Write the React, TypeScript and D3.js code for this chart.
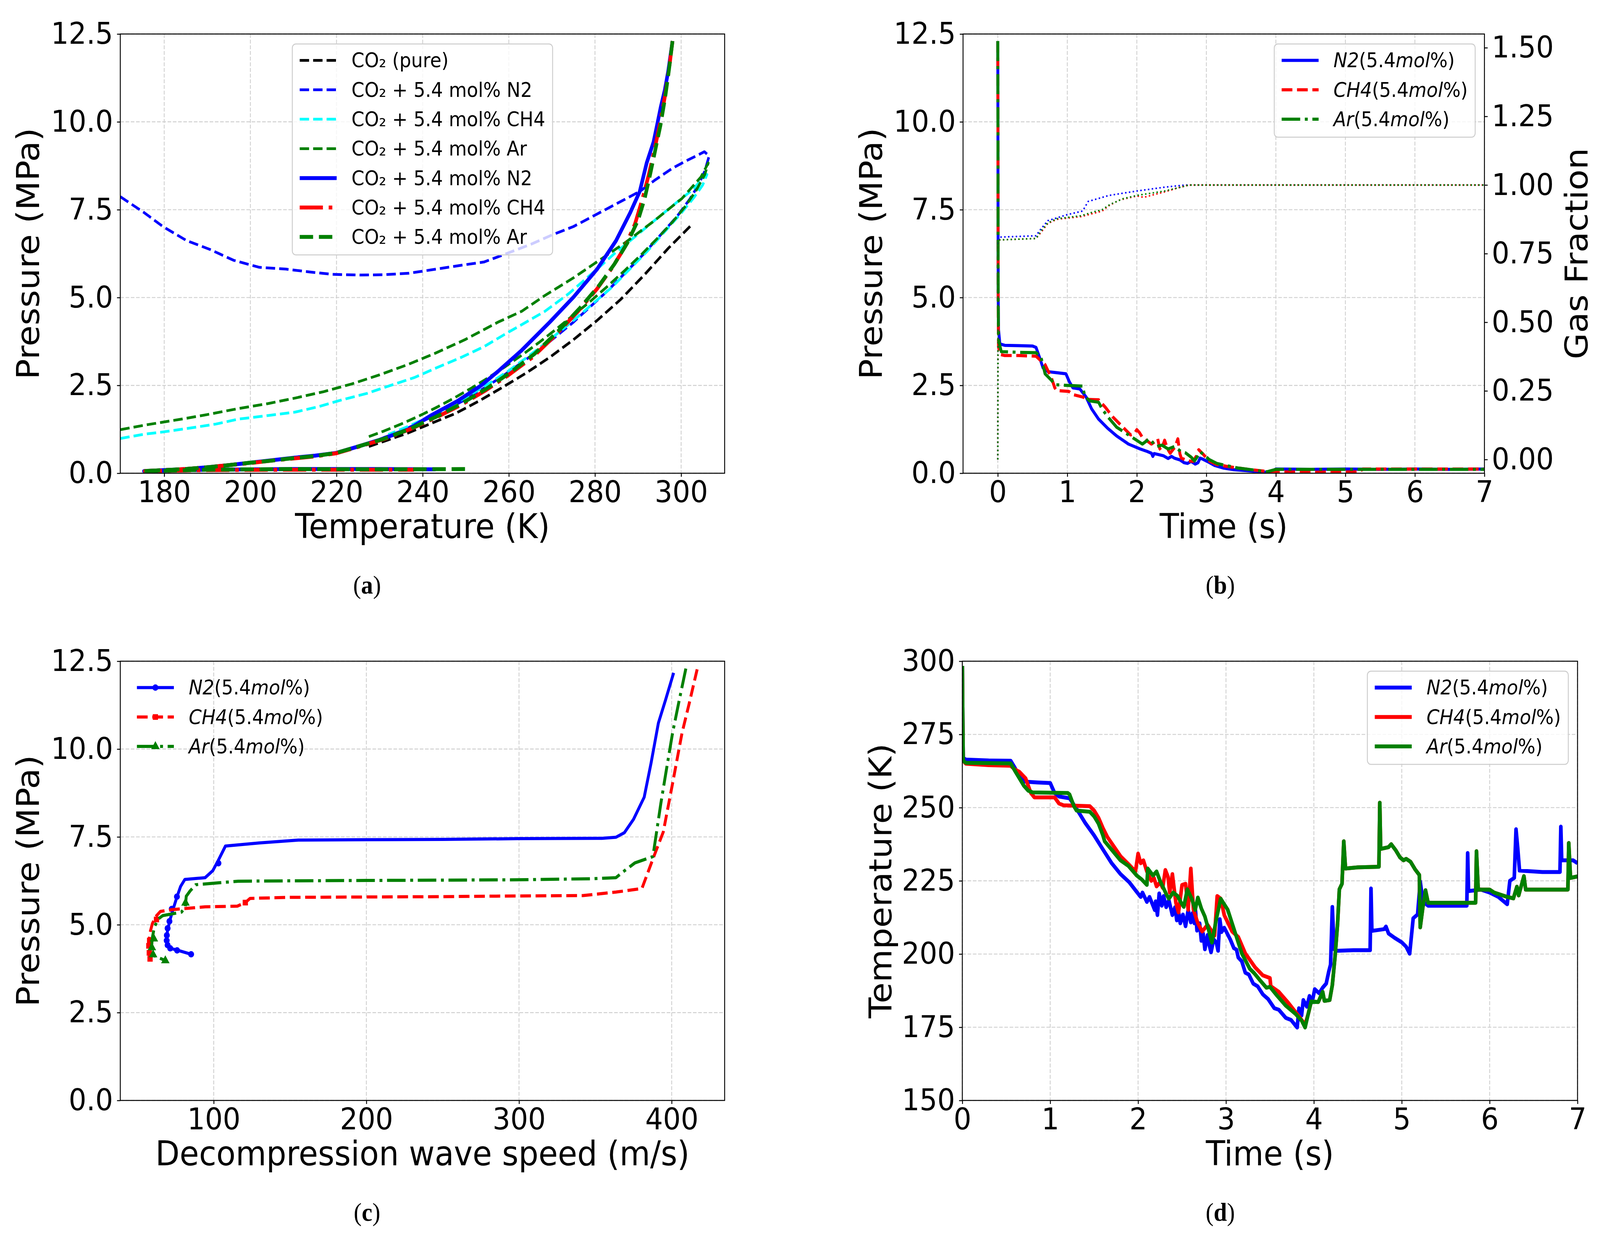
import { useEffect, useRef } from 'react';
import * as d3 from 'd3';

type Pt = [number, number];
type Seg = [string, boolean]; // text, italic

const W = 4416;
const H = 3168;
const SANS = "'DejaVu Sans', sans-serif";
const SERIF = "'Liberation Serif', 'DejaVu Serif', serif";
const GRID = '#d0d0d0';

// ---------- (a) pressure vs temperature: phase envelopes (thin dashed) and decompression paths (thick)
const envPure: Pt[] = [
  [227.5, 0.76], [232, 0.95], [236.7, 1.15], [242, 1.42], [247.6, 1.7], [253, 2.05], [258.6, 2.45],
  [264, 2.85], [269.5, 3.3], [275, 3.8], [280.5, 4.35], [286, 4.95], [291.5, 5.65], [297, 6.4], [302.2, 7.04],
];
const envN2: Pt[] = [
  [169.8, 7.87], [175.3, 7.42], [179.7, 7.02], [185.2, 6.62], [190.6, 6.37], [196.1, 6.06], [202.1, 5.86],
  [208.2, 5.81], [213.6, 5.73], [219.1, 5.66], [225.7, 5.64], [231, 5.65], [236.7, 5.69], [243.2, 5.81],
  [249, 5.92], [254.2, 6.01], [258.6, 6.21], [265.2, 6.52], [270, 6.78], [275, 7.02], [282.7, 7.52],
  [290.4, 8.02], [294, 8.35], [298, 8.68], [301, 8.88], [303.5, 9.03], [305.4, 9.15], [306.5, 9.03],
  [305.5, 8.6], [304, 8.2], [302, 7.8], [299, 7.3], [295, 6.75], [291, 6.2], [287, 5.7], [283, 5.2],
  [279, 4.75], [275, 4.3], [271, 3.9], [267, 3.5], [263, 3.15], [259, 2.8], [255, 2.48], [250, 2.1],
  [245, 1.78], [240, 1.48], [235, 1.2], [230, 0.97],
];
const envCH4: Pt[] = [
  [169.8, 0.99], [175.3, 1.11], [180, 1.18], [186.2, 1.29], [192, 1.4], [197.2, 1.54], [204, 1.64],
  [210.4, 1.74], [216, 1.9], [221.3, 2.09], [227, 2.27], [232.3, 2.49], [238, 2.72], [243.2, 3.0],
  [249, 3.3], [254.2, 3.6], [259.7, 4.0], [264, 4.3], [268.4, 4.61], [273.9, 5.11], [280.5, 5.81],
  [284.5, 6.25], [288.2, 6.62], [293.6, 7.17], [299.1, 7.72], [302.5, 8.05], [304.6, 8.33], [306, 8.5],
  [305, 8.2], [303, 7.85], [300, 7.4], [296, 6.85], [292, 6.3], [288, 5.8], [284, 5.3], [280, 4.88],
  [276, 4.45], [272, 4.05], [268, 3.65], [264, 3.28], [260, 2.92], [256, 2.6], [252, 2.3], [248, 2.02],
  [244, 1.76], [240, 1.52], [236, 1.3], [232, 1.1],
];
const envAr: Pt[] = [
  [169.8, 1.24], [176, 1.38], [184, 1.54], [190, 1.67], [197.2, 1.84], [204, 1.98], [210.4, 2.14],
  [217, 2.32], [223.5, 2.54], [230, 2.8], [236.7, 3.1], [243, 3.42], [249.8, 3.8], [257.5, 4.3],
  [263, 4.61], [268.4, 5.06], [275, 5.56], [281.6, 6.11], [287.1, 6.57], [293.6, 7.17], [300.2, 7.82],
  [304.6, 8.43], [306.3, 8.83], [305.5, 8.5], [303.5, 8.05], [301, 7.6], [298, 7.15], [295, 6.75],
  [291, 6.25], [287, 5.78], [283, 5.33], [279, 4.9], [275, 4.5], [271, 4.1], [267, 3.72], [263, 3.36],
  [259, 3.02], [255, 2.7], [251, 2.4], [247, 2.12], [243, 1.86], [239, 1.62], [235, 1.4], [231, 1.2],
  [227, 1.02],
];
const pathN2: Pt[] = [
  [298, 12.3], [297, 11.44], [296.2, 10.9], [295.3, 10.44], [294.4, 9.9], [293.6, 9.43], [292, 8.83],
  [290.4, 8.02], [288.2, 7.42], [284.9, 6.62], [280.5, 5.81], [275, 5.01], [269.5, 4.3], [263, 3.5],
  [257.5, 2.9], [253.6, 2.5], [248, 2.05], [242, 1.65], [236.7, 1.25], [230, 0.95], [225, 0.76],
  [220, 0.58], [215, 0.5], [210, 0.44], [205, 0.37], [200, 0.3], [195, 0.23], [190, 0.17], [185, 0.12],
  [180, 0.09], [175.3, 0.06], [190, 0.1], [210, 0.12], [230, 0.12], [243, 0.11],
];
const pathCH4: Pt[] = [
  [298, 12.3], [297.2, 11.5], [296.2, 10.7], [295, 9.9], [293.8, 9.2], [292.5, 8.5], [291, 7.8],
  [289.3, 7.1], [287, 6.45], [284, 5.85], [280.5, 5.25], [276, 4.6], [271, 3.95], [265.5, 3.3],
  [260, 2.8], [254.5, 2.35], [249, 1.95], [243, 1.58], [237, 1.25], [231, 0.97], [225, 0.75],
  [220, 0.57], [215, 0.48], [210, 0.42], [205, 0.36], [200, 0.29], [195, 0.23], [190, 0.17], [185, 0.12],
  [180, 0.09], [175.5, 0.06], [190, 0.09], [210, 0.1], [230, 0.1], [238, 0.1],
];
const pathAr: Pt[] = [
  [298, 12.3], [297.2, 11.5], [296.3, 10.7], [295.2, 9.9], [294, 9.2], [292.8, 8.5], [291.5, 7.8],
  [290, 7.2], [287.5, 6.55], [284.5, 5.95], [281, 5.35], [276.5, 4.7], [271.5, 4.05], [266, 3.4],
  [260.5, 2.88], [255, 2.42], [249, 1.98], [243, 1.6], [237, 1.26], [231, 0.98], [225, 0.76],
  [220, 0.58], [215, 0.49], [210, 0.43], [205, 0.36], [200, 0.3], [195, 0.23], [190, 0.17], [185, 0.12],
  [180, 0.09], [175, 0.06], [190, 0.1], [210, 0.12], [230, 0.11], [251, 0.12],
];
const legendA = [
  'CO₂ (pure)', 'CO₂ + 5.4 mol% N2', 'CO₂ + 5.4 mol% CH4', 'CO₂ + 5.4 mol% Ar',
  'CO₂ + 5.4 mol% N2', 'CO₂ + 5.4 mol% CH4', 'CO₂ + 5.4 mol% Ar',
];

// ---------- (b) pressure (MPa) and gas fraction vs time (s)
const pN2: Pt[] = [
  [0, 12.3], [0.003, 8], [0.006, 5], [0.01, 4.1], [0.03, 3.68], [0.1, 3.64], [0.3, 3.63], [0.5, 3.62],
  [0.55, 3.58], [0.6, 3.3], [0.65, 3.0], [0.72, 2.89], [0.85, 2.86], [0.98, 2.83], [1.03, 2.6],
  [1.08, 2.43], [1.18, 2.4], [1.27, 2.17], [1.35, 1.83], [1.45, 1.54], [1.58, 1.28], [1.71, 1.06],
  [1.88, 0.83], [2.05, 0.69], [2.15, 0.62], [2.21, 0.57], [2.23, 0.48], [2.25, 0.56], [2.38, 0.5],
  [2.45, 0.42], [2.5, 0.48], [2.54, 0.43], [2.62, 0.38], [2.68, 0.3], [2.73, 0.28], [2.78, 0.34],
  [2.84, 0.26], [2.88, 0.3], [2.91, 0.43], [2.95, 0.4], [3.04, 0.31], [3.12, 0.22], [3.24, 0.15],
  [3.4, 0.1], [3.61, 0.07], [3.84, 0.03], [3.95, 0.05], [4.0, 0.12], [4.5, 0.11], [5, 0.12], [5.5, 0.11],
  [6, 0.12], [6.5, 0.11], [7, 0.12],
];
const pCH4: Pt[] = [
  [0, 12.3], [0.003, 8], [0.006, 4.5], [0.01, 3.6], [0.03, 3.38], [0.1, 3.35], [0.3, 3.35], [0.55, 3.33],
  [0.62, 3.2], [0.68, 3.09], [0.77, 2.72], [0.82, 2.43], [0.85, 2.35], [1.02, 2.33], [1.08, 2.24],
  [1.22, 2.17], [1.3, 2.1], [1.45, 2.09], [1.55, 1.87], [1.65, 1.61], [1.78, 1.35], [1.91, 1.09],
  [1.96, 1.12], [2.0, 1.24], [2.04, 1.15], [2.08, 1.02], [2.21, 0.83], [2.26, 0.9], [2.3, 0.98],
  [2.33, 0.7], [2.35, 0.65], [2.4, 0.94], [2.44, 0.7], [2.48, 0.57], [2.55, 0.75], [2.59, 0.98],
  [2.62, 0.55], [2.64, 0.43], [2.74, 0.35], [2.81, 0.34], [2.86, 0.5], [2.89, 0.67], [2.95, 0.55],
  [3.04, 0.35], [3.15, 0.25], [3.28, 0.2], [3.45, 0.15], [3.61, 0.11], [3.87, 0.05], [4.0, 0.04],
  [4.6, 0.03], [5.2, 0.04], [5.25, 0.12], [6, 0.12], [7, 0.12],
];
const pAr: Pt[] = [
  [0, 12.3], [0.003, 8], [0.006, 5], [0.01, 3.8], [0.05, 3.46], [0.3, 3.44], [0.55, 3.43], [0.62, 3.31],
  [0.68, 2.83], [0.77, 2.65], [0.82, 2.52], [1.0, 2.5], [1.22, 2.48], [1.25, 2.2], [1.32, 2.06],
  [1.45, 2.02], [1.5, 1.83], [1.58, 1.61], [1.71, 1.31], [1.85, 1.13], [1.98, 0.96], [2.08, 0.83],
  [2.18, 0.98], [2.28, 0.76], [2.36, 0.8], [2.45, 0.69], [2.54, 0.76], [2.64, 0.61], [2.7, 0.58],
  [2.78, 0.46], [2.83, 0.35], [2.88, 0.5], [2.91, 0.61], [2.97, 0.52], [3.04, 0.39], [3.15, 0.28],
  [3.28, 0.22], [3.45, 0.15], [3.61, 0.11], [3.87, 0.04], [4.0, 0.11], [5, 0.11], [6, 0.11], [7, 0.11],
];
const gN2: Pt[] = [
  [0, 0], [0.004, 0.78], [0.02, 0.81], [0.55, 0.815], [0.62, 0.84], [0.72, 0.87], [1.0, 0.892],
  [1.22, 0.905], [1.3, 0.94], [1.6, 0.962], [2.0, 0.978], [2.4, 0.992], [2.7, 1.0], [7, 1.0],
];
const gCH4: Pt[] = [
  [0, 0], [0.004, 0.77], [0.02, 0.8], [0.55, 0.805], [0.63, 0.83], [0.72, 0.86], [0.85, 0.875],
  [1.2, 0.885], [1.35, 0.895], [1.5, 0.905], [1.6, 0.925], [1.75, 0.945], [2.0, 0.96], [2.1, 0.955],
  [2.4, 0.975], [2.6, 0.99], [2.75, 1.0], [7, 1.0],
];
const gAr: Pt[] = [
  [0, 0], [0.004, 0.77], [0.02, 0.8], [0.55, 0.805], [0.63, 0.835], [0.72, 0.862], [0.85, 0.877],
  [1.2, 0.888], [1.35, 0.9], [1.5, 0.91], [1.62, 0.93], [1.8, 0.95], [2.0, 0.962], [2.4, 0.978],
  [2.6, 0.99], [2.75, 1.0], [7, 1.0],
];

// ---------- (c) pressure (MPa) vs decompression wave speed (m/s)
const cN2: Pt[] = [
  [401.3, 12.17], [396, 11.4], [391.3, 10.74], [386.5, 9.6], [382, 8.63], [375, 8.0], [369, 7.62],
  [363.5, 7.49], [354.3, 7.46], [300, 7.45], [250, 7.43], [200, 7.42], [155.4, 7.41], [130, 7.33],
  [107.7, 7.24], [103.1, 6.84], [99.4, 6.54], [94.4, 6.34], [81.1, 6.29], [78.3, 6.09], [75.9, 5.79],
  [73.4, 5.44], [71.3, 5.13], [69.7, 4.83], [69.1, 4.53], [69.7, 4.38], [71.5, 4.33], [75.9, 4.28],
  [85.2, 4.16],
];
const cN2Marks: Pt[] = [
  [103.1, 6.75], [75.9, 5.8], [72.5, 5.45], [71, 5.1], [69.8, 4.9], [69.3, 4.7], [69.2, 4.55],
  [69.8, 4.42], [71.5, 4.33], [76, 4.27], [85.2, 4.16],
];
const cCH4: Pt[] = [
  [416.7, 12.27], [411.5, 11.3], [406.8, 10.46], [400.5, 9.0], [394.5, 7.64], [388.3, 6.94],
  [380.5, 6.03], [363.5, 5.93], [341.9, 5.83], [300, 5.82], [250, 5.8], [200, 5.79], [150, 5.78],
  [123.8, 5.75], [120.7, 5.63], [115.5, 5.53], [94.4, 5.51], [72.8, 5.43], [65.1, 5.38], [62, 5.23],
  [59.8, 5.03], [58.6, 4.83], [57.4, 4.53], [57.4, 4.28], [58.3, 4.03],
];
const cCH4Marks: Pt[] = [[120.7, 5.63], [62.5, 5.15], [58, 4.55], [57.5, 4.4], [57.8, 4.2], [58.3, 4.03]];
const cAr: Pt[] = [
  [409.3, 12.29], [405, 11.4], [400.6, 10.46], [396.5, 9.4], [392.9, 8.45], [387.7, 6.94],
  [375.9, 6.76], [368, 6.5], [363.5, 6.34], [348, 6.31], [300, 6.28], [250, 6.27], [200, 6.26],
  [150, 6.25], [116.1, 6.24], [88.2, 6.14], [84.5, 5.96], [82, 5.81], [81.4, 5.51], [78.9, 5.36],
  [66.6, 5.26], [63.5, 5.16], [61.1, 4.93], [59.8, 4.63], [59.2, 4.33], [60.5, 4.13], [68.3, 3.98],
];
const cArMarks: Pt[] = [[81.5, 5.62], [60.8, 4.6], [59.5, 4.35], [60.3, 4.15], [68.3, 3.98]];

// ---------- (d) temperature (K) vs time (s)
const tN2: Pt[] = [
  [0, 298.4], [0.005, 280], [0.01, 267], [0.04, 266.4], [0.3, 266.1], [0.55, 266], [0.6, 263.5],
  [0.65, 260.5], [0.7, 258.9], [0.85, 258.6], [1.0, 258.4], [1.05, 255], [1.1, 253.8], [1.22, 253.2],
  [1.3, 249.6], [1.4, 244.7], [1.5, 240.5], [1.6, 235.7], [1.7, 231], [1.8, 227.3], [1.9, 224.5],
  [1.985, 221.2], [2.03, 219.5], [2.05, 221], [2.1, 217.8], [2.13, 219.5], [2.17, 216.5], [2.19, 215],
  [2.2, 218], [2.22, 213.3], [2.24, 220.7], [2.27, 216.5], [2.29, 219.8], [2.32, 216], [2.35, 218.4],
  [2.39, 213.3], [2.42, 216], [2.44, 211.5], [2.46, 214.5], [2.48, 210.5], [2.51, 213.5], [2.54, 209.5],
  [2.57, 215.1], [2.6, 210.8], [2.62, 214], [2.64, 210.5], [2.65, 216.1], [2.67, 208], [2.7, 210.5],
  [2.72, 204.5], [2.74, 207], [2.76, 201.6], [2.79, 206.5], [2.81, 203], [2.83, 200.6], [2.86, 205],
  [2.89, 203.9], [2.91, 201.1], [2.93, 211.9], [2.95, 207.5], [2.98, 209], [3.05, 204.9], [3.09, 202],
  [3.12, 201.5], [3.14, 198.8], [3.18, 197.5], [3.22, 193.6], [3.26, 193], [3.31, 189.9], [3.36, 189],
  [3.42, 186.2], [3.48, 184.6], [3.55, 181.5], [3.6, 181], [3.68, 178.2], [3.74, 177.5], [3.81, 174.9],
  [3.83, 181.5], [3.86, 179], [3.88, 184.3], [3.92, 182], [3.95, 185.7], [3.98, 183.5], [4.01, 188],
  [4.06, 186.6], [4.1, 188.5], [4.14, 189.9], [4.17, 194.1], [4.19, 196.4], [4.21, 216.1], [4.23, 201.6],
  [4.27, 201.1], [4.45, 201.3], [4.64, 201.3], [4.65, 222.4], [4.66, 207.9], [4.8, 208.5], [4.82, 209.4],
  [4.85, 207], [4.92, 205.5], [5.0, 204], [5.05, 202.5], [5.09, 200.1], [5.13, 212.2], [5.18, 213.5],
  [5.21, 224.8], [5.24, 218], [5.3, 216.5], [5.5, 216.5], [5.74, 216.5], [5.75, 234.5], [5.76, 221.5],
  [5.9, 222], [6.0, 221], [6.1, 219.5], [6.2, 217], [6.23, 225], [6.28, 226], [6.3, 242.6], [6.32, 236],
  [6.34, 228.5], [6.6, 228], [6.8, 228], [6.81, 243.5], [6.82, 232], [6.95, 232], [7, 231],
];
const tCH4Early: Pt[] = [
  [0, 298.4], [0.005, 280], [0.01, 266], [0.04, 265], [0.3, 264.5], [0.55, 264.3], [0.6, 263],
  [0.65, 262.2], [0.72, 260], [0.78, 255], [0.82, 253.5], [1.05, 253.5], [1.1, 251.4], [1.15, 250.8],
  [1.45, 250.5], [1.5, 249], [1.55, 246.5], [1.6, 243], [1.65, 240], [1.8, 233.4], [1.91, 230.1],
  [1.97, 228.2], [2.0, 234.3], [2.03, 231], [2.06, 232], [2.1, 228.2], [2.15, 225], [2.18, 226],
  [2.21, 223.1], [2.25, 224.5], [2.28, 222.6], [2.31, 228.7], [2.34, 226.4], [2.36, 221], [2.39, 227.3],
  [2.43, 217.5], [2.46, 214.2], [2.5, 223.6], [2.54, 224], [2.57, 215.1], [2.6, 229.2], [2.63, 215.1],
  [2.68, 210.5], [2.73, 207.7], [2.79, 210], [2.87, 206.3], [2.9, 219.8], [2.94, 218.9], [2.98, 213.3],
  [3.07, 207.7], [3.14, 205.8], [3.22, 200.2], [3.33, 195.5], [3.42, 192.7], [3.5, 191.8], [3.51, 189],
  [3.6, 187.1], [3.71, 183.3], [3.83, 178.7], [3.9, 175.9], [3.94, 180],
];
const tArEarly: Pt[] = [
  [0, 298.4], [0.005, 280], [0.01, 266], [0.04, 265.3], [0.3, 265.2], [0.55, 265.1], [0.6, 262.5],
  [0.65, 260], [0.7, 257.5], [0.75, 255.8], [0.8, 255.2], [1.2, 255], [1.22, 254.5], [1.27, 250.5],
  [1.3, 249], [1.45, 248.6], [1.5, 247], [1.55, 244.5], [1.6, 240.5], [1.62, 238.5], [1.8, 232],
  [1.89, 230.1], [1.985, 226.8], [2.04, 225.5], [2.1, 223.6], [2.11, 229.2], [2.17, 226.8],
  [2.21, 228.2], [2.25, 225], [2.28, 223.1], [2.32, 220.5], [2.35, 218.9], [2.4, 221], [2.45, 219.8],
  [2.49, 217.5], [2.52, 216.1], [2.56, 222.1], [2.61, 218.9], [2.65, 215.1], [2.68, 219.3],
  [2.72, 215.5], [2.76, 212.8], [2.8, 208.5], [2.84, 203.9], [2.89, 211.9], [2.94, 218.9],
  [3.02, 215.1], [3.09, 208.6], [3.18, 200.2], [3.27, 195], [3.32, 193.5], [3.38, 191.3], [3.46, 188.5],
  [3.5, 188.8], [3.57, 186.2], [3.68, 182.4], [3.79, 179.6], [3.86, 177.3], [3.9, 174.9], [3.94, 180.1],
];
// after ~4 s the CH4 and Ar traces lie on top of each other
const tLate: Pt[] = [
  [3.97, 183.8], [4.05, 183.6], [4.1, 187.1], [4.12, 184], [4.18, 184.3], [4.21, 189.4], [4.24, 198.8],
  [4.27, 210.5], [4.29, 222.1], [4.32, 224], [4.34, 238.5], [4.36, 229.2], [4.5, 229.6], [4.74, 229.8],
  [4.75, 251.7], [4.76, 235.9], [4.85, 236.5], [4.88, 237.5], [4.93, 235.5], [4.98, 233], [5.02, 232],
  [5.05, 232.5], [5.1, 231.5], [5.15, 229], [5.2, 227], [5.21, 209.1], [5.24, 216], [5.27, 221.8],
  [5.3, 217.5], [5.6, 217.5], [5.84, 217.5], [5.85, 235.1], [5.87, 222], [6.0, 222], [6.05, 221],
  [6.15, 220], [6.2, 219.5], [6.27, 219], [6.31, 223], [6.33, 220], [6.39, 226.6], [6.41, 222],
  [6.6, 222], [6.89, 222], [6.9, 237.9], [6.92, 226], [7, 226.5],
];
const tCH4 = tCH4Early.concat(tLate);
const tAr = tArEarly.concat(tLate);

// ---------- ticks and labels
const pressureTicks = [0, 2.5, 5, 7.5, 10, 12.5];
const tempTicksA = [180, 200, 220, 240, 260, 280, 300];
const timeTicks = [0, 1, 2, 3, 4, 5, 6, 7];
const fractionTicks = [0, 0.25, 0.5, 0.75, 1, 1.25, 1.5];
const speedTicks = [100, 200, 300, 400];
const tempTicksD = [150, 175, 200, 225, 250, 275, 300];
const gasLabels: Seg[][] = [
  [['N2', true], ['(5.4', false], ['mol', true], ['%)', false]],
  [['CH4', true], ['(5.4', false], ['mol', true], ['%)', false]],
  [['Ar', true], ['(5.4', false], ['mol', true], ['%)', false]],
];

interface Style { color: string; lw: number; dash?: 'dashed' | 'dashdot' | 'dotted'; marker?: 'circle' | 'square' | 'triangle' }
interface Box { left: number; right: number; top: number; bottom: number }

const boxA: Box = { left: 332, right: 2000, top: 87, bottom: 1211 };
const boxB: Box = { left: 2658, right: 4097, top: 87, bottom: 1211 };
const boxC: Box = { left: 332, right: 2000, top: 1692, bottom: 2816 };
const boxD: Box = { left: 2656, right: 4354, top: 1692, bottom: 2816 };

function dashArray(s: Style) {
  const w = s.lw;
  if (s.dash === 'dashed') return `${3.7 * w},${1.6 * w}`;
  if (s.dash === 'dashdot') return `${6.4 * w},${1.6 * w},${1 * w},${1.6 * w}`;
  if (s.dash === 'dotted') return `${1 * w},${1.65 * w}`;
  return null;
}

function markerPath(s: Style) {
  const type = s.marker === 'square' ? d3.symbolSquare : s.marker === 'triangle' ? d3.symbolTriangle : d3.symbolCircle;
  return d3.symbol().type(type).size(s.marker === 'triangle' ? 240 : 210)();
}

export default function App() {
  const svgRef = useRef<SVGSVGElement>(null);

  useEffect(() => {
    if (!svgRef.current) return;
    const svg = d3.select(svgRef.current);
    svg.selectAll('*').remove();

    const makePanel = (id: string, box: Box, xd: [number, number], yd: [number, number]) => {
      const x = d3.scaleLinear().domain(xd).range([box.left, box.right]);
      const y = d3.scaleLinear().domain(yd).range([box.bottom, box.top]);
      svg.append('clipPath').attr('id', id).append('rect')
        .attr('x', box.left).attr('y', box.top)
        .attr('width', box.right - box.left).attr('height', box.bottom - box.top);
      const grid = svg.append('g');
      const plot = svg.append('g').attr('clip-path', `url(#${id})`);
      return { x, y, box, grid, plot };
    };
    type Panel = ReturnType<typeof makePanel>;

    const drawGrid = (p: Panel, xt: number[], yt: number[]) => {
      p.grid.selectAll('line.gx').data(xt).join('line')
        .attr('x1', d => p.x(d)).attr('x2', d => p.x(d))
        .attr('y1', p.box.top).attr('y2', p.box.bottom);
      p.grid.selectAll('line.gy').data(yt).join('line')
        .attr('y1', d => p.y(d)).attr('y2', d => p.y(d))
        .attr('x1', p.box.left).attr('x2', p.box.right);
      p.grid.selectAll('line')
        .attr('stroke', GRID).attr('stroke-width', 2.4).attr('stroke-dasharray', '10,4.5');
    };

    const drawSeries = (p: Panel, data: Pt[], s: Style, y = p.y) => {
      const line = d3.line<Pt>().x(d => p.x(d[0])).y(d => y(d[1]));
      p.plot.append('path').datum(data).attr('d', line)
        .attr('fill', 'none').attr('stroke', s.color).attr('stroke-width', s.lw)
        .attr('stroke-linejoin', 'round')
        .attr('stroke-dasharray', dashArray(s));
    };

    const drawMarkers = (p: Panel, data: Pt[], s: Style) => {
      p.plot.append('g').selectAll('path').data(data).join('path')
        .attr('transform', d => `translate(${p.x(d[0])},${p.y(d[1])})`)
        .attr('d', markerPath(s)).attr('fill', s.color);
    };

    const styleAxis = (g: d3.Selection<SVGGElement, unknown, null, undefined>) => {
      g.attr('font-family', SANS).attr('font-size', 77);
      g.select('.domain').remove();
      g.selectAll('.tick line').attr('stroke', '#000').attr('stroke-width', 2.5);
      g.selectAll('.tick text').attr('fill', '#000');
    };

    const drawAxes = (p: Panel, xt: number[], yt: number[], xf: (d: number) => string, yf: (d: number) => string) => {
      const gx = svg.append('g').attr('transform', `translate(0,${p.box.bottom})`)
        .call(d3.axisBottom(p.x).tickValues(xt).tickFormat(xf as any).tickSize(9).tickPadding(10));
      styleAxis(gx);
      const gy = svg.append('g').attr('transform', `translate(${p.box.left},0)`)
        .call(d3.axisLeft(p.y).tickValues(yt).tickFormat(yf as any).tickSize(9).tickPadding(11));
      styleAxis(gy);
      svg.append('rect')
        .attr('x', p.box.left).attr('y', p.box.top)
        .attr('width', p.box.right - p.box.left).attr('height', p.box.bottom - p.box.top)
        .attr('fill', 'none').attr('stroke', '#000').attr('stroke-width', 2.5);
    };

    const label = (text: string, x: number, y: number, rotate = false) => {
      svg.append('text')
        .attr('transform', rotate ? `translate(${x},${y}) rotate(-90)` : `translate(${x},${y})`)
        .attr('text-anchor', 'middle').attr('font-family', SANS).attr('font-size', 87)
        .attr('fill', '#000').text(text);
    };

    const caption = (letter: string, x: number, y: number) => {
      const t = svg.append('text').attr('x', x).attr('y', y).attr('text-anchor', 'middle')
        .attr('font-family', SERIF).attr('font-size', 66).attr('fill', '#000');
      t.append('tspan').text('(');
      t.append('tspan').attr('font-weight', 'bold').text(letter);
      t.append('tspan').text(')');
    };

    // legend laid out like matplotlib: borderaxespad, borderpad, handlelength, handletextpad
    const drawLegend = (box: Box, items: { parts: Seg[]; style: Style }[], loc: 'left' | 'right' | 'center', frame: boolean) => {
      const fs = 51;
      const pad = 20.4, handle = 102, textPad = 41, step = 75.3, first = 42;
      const g = svg.append('g');
      const rect = g.append('rect');
      let maxW = 0;
      items.forEach((it, i) => {
        const cy = first + i * step;
        const s = it.style;
        g.append('line')
          .attr('x1', pad).attr('x2', pad + handle).attr('y1', cy).attr('y2', cy)
          .attr('stroke', s.color).attr('stroke-width', s.lw)
          .attr('stroke-dasharray', dashArray(s));
        if (s.marker) {
          g.append('path').attr('transform', `translate(${pad + handle / 2},${cy})`)
            .attr('d', markerPath(s)).attr('fill', s.color);
        }
        const t = g.append('text').attr('x', pad + handle + textPad).attr('y', cy + 18)
          .attr('font-family', SANS).attr('font-size', fs).attr('fill', '#000');
        it.parts.forEach(([txt, it2]) => t.append('tspan').attr('font-style', it2 ? 'italic' : 'normal').text(txt));
        const node = t.node() as SVGTextElement;
        maxW = Math.max(maxW, node.getComputedTextLength());
      });
      const w = pad * 2 + handle + textPad + maxW;
      const h = first * 2 + (items.length - 1) * step + 4;
      rect.attr('width', w).attr('height', h).attr('rx', 10).attr('ry', 10)
        .attr('fill', frame ? '#fff' : 'none').attr('fill-opacity', 0.8)
        .attr('stroke', frame ? '#cccccc' : 'none').attr('stroke-width', 2.5);
      const x0 = loc === 'left' ? box.left + 25.5
        : loc === 'right' ? box.right - 25.5 - w
        : (box.left + box.right) / 2 - w / 2;
      g.attr('transform', `translate(${x0},${box.top + 25.5})`);
    };

    const f1 = d3.format('.1f');
    const f2 = d3.format('.2f');
    const fi = d3.format('d');

    // ---------- (a)
    const a = makePanel('clipA', boxA, [169.8, 310.1], [0, 12.5]);
    drawGrid(a, tempTicksA, pressureTicks);
    const stylesA: Style[] = [
      { color: '#000000', lw: 7, dash: 'dashed' },
      { color: '#0000ff', lw: 7, dash: 'dashed' },
      { color: '#00ffff', lw: 7, dash: 'dashed' },
      { color: '#008000', lw: 7, dash: 'dashed' },
      { color: '#0000ff', lw: 10 },
      { color: '#ff0000', lw: 10, dash: 'dashdot' },
      { color: '#008000', lw: 10, dash: 'dashed' },
    ];
    [envPure, envN2, envCH4, envAr, pathN2, pathCH4, pathAr].forEach((d, i) => drawSeries(a, d, stylesA[i]));
    drawAxes(a, tempTicksA, pressureTicks, fi, f1);
    label('Temperature (K)', (boxA.left + boxA.right) / 2, 1377);
    label('Pressure (MPa)', 108, (boxA.top + boxA.bottom) / 2, true);
    drawLegend(boxA, legendA.map((l, i) => ({ parts: [[l, false]] as Seg[], style: stylesA[i] })), 'center', true);
    caption('a', 1013, 1519);

    // ---------- (b)
    const b = makePanel('clipB', boxB, [-0.5, 7], [0, 12.5]);
    const bFrac = d3.scaleLinear().domain([-0.05, 1.55]).range([boxB.bottom, boxB.top]);
    drawGrid(b, timeTicks, pressureTicks);
    const stylesB: Style[] = [
      { color: '#0000ff', lw: 8 },
      { color: '#ff0000', lw: 8, dash: 'dashed' },
      { color: '#008000', lw: 8, dash: 'dashdot' },
    ];
    [pN2, pCH4, pAr].forEach((d, i) => drawSeries(b, d, stylesB[i]));
    [gN2, gCH4, gAr].forEach((d, i) =>
      drawSeries(b, d, { color: stylesB[i].color, lw: 4, dash: 'dotted' }, bFrac));
    drawAxes(b, timeTicks, pressureTicks, fi, f1);
    const gr = svg.append('g').attr('transform', `translate(${boxB.right},0)`)
      .call(d3.axisRight(bFrac).tickValues(fractionTicks).tickFormat(f2 as any).tickSize(9).tickPadding(11));
    styleAxis(gr);
    label('Time (s)', (boxB.left + boxB.right) / 2, 1377);
    label('Pressure (MPa)', 2434, (boxB.top + boxB.bottom) / 2, true);
    label('Gas Fraction', 4381, (boxB.top + boxB.bottom) / 2, true);
    drawLegend(boxB, gasLabels.map((p, i) => ({ parts: p, style: stylesB[i] })), 'right', true);
    caption('b', 3368, 1519);

    // ---------- (c)
    const c = makePanel('clipC', boxC, [38.8, 434.7], [0, 12.5]);
    drawGrid(c, speedTicks, pressureTicks);
    const stylesC: Style[] = [
      { color: '#0000ff', lw: 8, marker: 'circle' },
      { color: '#ff0000', lw: 8, dash: 'dashed', marker: 'square' },
      { color: '#008000', lw: 8, dash: 'dashdot', marker: 'triangle' },
    ];
    drawSeries(c, cN2, stylesC[0]);
    drawMarkers(c, cN2Marks, stylesC[0]);
    drawSeries(c, cCH4, stylesC[1]);
    drawMarkers(c, cCH4Marks, stylesC[1]);
    drawSeries(c, cAr, stylesC[2]);
    drawMarkers(c, cArMarks, stylesC[2]);
    drawAxes(c, speedTicks, pressureTicks, fi, f1);
    label('Decompression wave speed (m/s)', (boxC.left + boxC.right) / 2, 2982);
    label('Pressure (MPa)', 108, (boxC.top + boxC.bottom) / 2, true);
    drawLegend(boxC, gasLabels.map((p, i) => ({ parts: p, style: stylesC[i] })), 'left', false);
    caption('c', 1013, 3124);

    // ---------- (d)
    const dp = makePanel('clipD', boxD, [0, 7], [150, 300]);
    drawGrid(dp, timeTicks, tempTicksD);
    const stylesD: Style[] = [
      { color: '#0000ff', lw: 10 },
      { color: '#ff0000', lw: 10 },
      { color: '#008000', lw: 10 },
    ];
    [tN2, tCH4, tAr].forEach((d, i) => drawSeries(dp, d, stylesD[i]));
    drawAxes(dp, timeTicks, tempTicksD, fi, fi);
    label('Time (s)', (boxD.left + boxD.right) / 2, 2982);
    label('Temperature (K)', 2460, (boxD.top + boxD.bottom) / 2, true);
    drawLegend(boxD, gasLabels.map((p, i) => ({ parts: p, style: stylesD[i] })), 'right', true);
    caption('d', 3368, 3124);
  }, []);

  return (
    <svg
      ref={svgRef}
      viewBox={`0 0 ${W} ${H}`}
      preserveAspectRatio="none"
      style={{ position: 'absolute', left: 0, top: 0, width: '100vw', height: '100vh', background: '#fff', display: 'block' }}
    />
  );
}
